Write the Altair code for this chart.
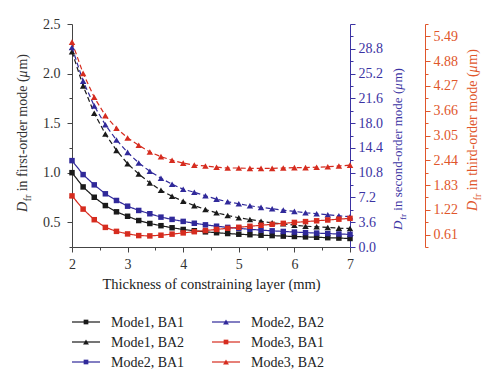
import altair as alt
import pandas as pd

# ---------------- data ----------------
thickness = [2.0, 2.2, 2.4, 2.6, 2.8, 3.0, 3.2, 3.4, 3.6, 3.8, 4.0, 4.2, 4.4,
             4.6, 4.8, 5.0, 5.2, 5.4, 5.6, 5.8, 6.0, 6.2, 6.4, 6.6, 6.8, 7.0]

# first-order mode (left axis)
mode1_ba1 = [1.00, 0.856, 0.752, 0.668, 0.605, 0.560, 0.517, 0.487, 0.465, 0.444,
             0.427, 0.414, 0.403, 0.394, 0.386, 0.379, 0.374, 0.369, 0.365, 0.360,
             0.356, 0.352, 0.348, 0.344, 0.340, 0.336]
mode1_ba2 = [2.22, 1.876, 1.60, 1.39, 1.225, 1.09, 0.987, 0.897, 0.822, 0.762,
             0.711, 0.668, 0.628, 0.595, 0.568, 0.545, 0.527, 0.510, 0.494, 0.484,
             0.470, 0.460, 0.454, 0.447, 0.440, 0.437]

# second-order mode (blue axis)
mode2_ba1 = [12.55, 10.52, 9.03, 7.73, 6.76, 5.93, 5.31, 4.83, 4.34, 4.01,
             3.72, 3.45, 3.22, 3.02, 2.85, 2.70, 2.57, 2.45, 2.35, 2.26,
             2.17, 2.09, 2.02, 1.95, 1.89, 1.83]
mode2_ba2 = [29.0, 24.1, 20.5, 17.76, 15.54, 13.75, 12.21, 11.0, 9.99, 9.12,
             8.39, 7.96, 7.44, 6.95, 6.57, 6.28, 5.99, 5.75, 5.56, 5.35,
             5.17, 4.98, 4.83, 4.69, 4.54, 4.40]

# third-order mode (red axis)
mode3_ba1 = [1.563, 1.238, 0.977, 0.788, 0.690, 0.627, 0.586, 0.578, 0.595, 0.622,
             0.652, 0.682, 0.710, 0.738, 0.765, 0.790, 0.815, 0.840, 0.864, 0.887,
             0.910, 0.930, 0.950, 0.970, 0.990, 1.010]
mode3_ba2 = [5.35, 4.58, 3.99, 3.54, 3.23, 2.99, 2.81, 2.645, 2.53, 2.44,
             2.37, 2.32, 2.30, 2.27, 2.25, 2.25, 2.24, 2.24, 2.24, 2.25,
             2.26, 2.26, 2.27, 2.28, 2.30, 2.32]

series_names = ["Mode1, BA1", "Mode1, BA2", "Mode2, BA1",
                "Mode2, BA2", "Mode3, BA1", "Mode3, BA2"]

left_ticks = [0.25, 0.5, 0.75, 1.0, 1.25, 1.5, 1.75, 2.0, 2.25, 2.5]
x_ticks = [2, 2.5, 3, 3.5, 4, 4.5, 5, 5.5, 6, 6.5, 7]
blue_ticks = [0, 1.8, 3.6, 5.4, 7.2, 9.0, 10.8, 12.6, 14.4, 16.2, 18.0, 19.8,
              21.6, 23.4, 25.2, 27.0, 28.8, 30.6, 32.4]
red_ticks = [0.305, 0.61, 0.915, 1.22, 1.525, 1.83, 2.135, 2.44, 2.745, 3.05,
             3.355, 3.66, 3.965, 4.27, 4.575, 4.88, 5.185, 5.49, 5.795]

# ---------------- styling ----------------
FONT = "Liberation Serif"
BLACK = "#1a1a1a"
BLUE = "#30299a"
RED = "#d62c1f"
BLUE_AX = "#3b33a3"
RED_AX = "#e0562b"
GREY = "#444444"
series_colors = [BLACK, BLACK, BLUE, BLUE, RED, RED]
series_dash = [[1, 0], [5, 3], [1, 0], [5, 3], [1, 0], [5, 3]]

W, H = 278, 223


def long_frame(names, arrays):
    rows = []
    for n, arr in zip(names, arrays):
        for xv, yv in zip(thickness, arr):
            rows.append({"t": xv, "v": yv, "series": n})
    return pd.DataFrame(rows)


color_enc = alt.Color("series:N",
                      scale=alt.Scale(domain=series_names, range=series_colors),
                      legend=None)
dash_enc = alt.StrokeDash("series:N",
                          scale=alt.Scale(domain=series_names, range=series_dash),
                          legend=None)

x_axis = alt.Axis(
    values=x_ticks,
    labelExpr="abs(datum.value - round(datum.value)) < 0.001 ? format(datum.value, 'd') : ''",
    tickSize={"condition": {"test": "abs(datum.value - round(datum.value)) > 0.001", "value": 3}, "value": 5},
    title="Thickness of constraining layer (mm)",
    titleFont=FONT, titleFontSize=14.5, titleFontWeight="normal", titleColor="#222",
    titlePadding=6,
    labelFont=FONT, labelFontSize=14, labelColor="#333", labelPadding=5,
    labelFlush=False, labelOverlap=False, grid=False,
    domainColor=GREY, tickColor=GREY,
)
x_enc = alt.X("t:Q", scale=alt.Scale(domain=[2, 7], nice=False, zero=False), axis=x_axis)


def panel(df, domain, axis):
    y = alt.Y("v:Q", scale=alt.Scale(domain=domain, nice=False, zero=False), axis=axis)
    base = alt.Chart(df)
    line = base.mark_line(strokeWidth=1.2).encode(
        x=x_enc, y=y, color=color_enc, strokeDash=dash_enc)
    sq = base.transform_filter("indexof(datum.series, 'BA1') >= 0").mark_point(
        shape="square", size=30, filled=True, opacity=1).encode(x=x_enc, y=y, color=color_enc)
    tr = base.transform_filter("indexof(datum.series, 'BA2') >= 0").mark_point(
        shape="triangle-up", size=42, filled=True, opacity=1).encode(x=x_enc, y=y, color=color_enc)
    return alt.layer(line, sq, tr)


left_axis = alt.Axis(
    orient="left", title=None, values=left_ticks,
    labelExpr="abs(datum.value*2 - round(datum.value*2)) < 0.001 ? format(datum.value, '.1f') : ''",
    tickSize={"condition": {"test": "abs(datum.value*2 - round(datum.value*2)) > 0.001", "value": 3}, "value": 5},
    labelFont=FONT, labelFontSize=14, labelColor="#333", labelPadding=7,
    labelFlush=False, labelOverlap=False, grid=False,
    domainColor=GREY, tickColor=GREY,
)
blue_axis = alt.Axis(
    orient="right", title=None, values=blue_ticks,
    labelExpr="(abs(datum.value/3.6 - round(datum.value/3.6)) < 0.001 && datum.value < 30) ? format(datum.value, '.1f') : ''",
    tickSize={"condition": {"test": "abs(datum.value/3.6 - round(datum.value/3.6)) > 0.001", "value": 3}, "value": 5},
    labelFont=FONT, labelFontSize=14, labelColor=BLUE_AX, labelPadding=3,
    labelFlush=False, labelOverlap=False, grid=False,
    domainColor=BLUE_AX, tickColor=BLUE_AX,
)
red_axis = alt.Axis(
    orient="right", offset=75, title=None, values=red_ticks,
    labelExpr="abs(datum.value/0.61 - round(datum.value/0.61)) < 0.001 ? format(datum.value, '.2f') : ''",
    tickSize={"condition": {"test": "abs(datum.value/0.61 - round(datum.value/0.61)) > 0.001", "value": 3}, "value": 5},
    labelFont=FONT, labelFontSize=14, labelColor=RED_AX, labelPadding=3,
    labelFlush=False, labelOverlap=False, grid=False,
    domainColor=RED_AX, tickColor=RED_AX,
)

p1 = panel(long_frame(series_names[0:2], [mode1_ba1, mode1_ba2]), [0.25, 2.5], left_axis)
p2 = panel(long_frame(series_names[2:4], [mode2_ba1, mode2_ba2]), [0, 32.4], blue_axis)
p3 = panel(long_frame(series_names[4:6], [mode3_ba1, mode3_ba2]), [0.305, 5.795], red_axis)

# ---------------- rotated axis titles (D with subscript fr) ----------------
REG = {" ": 250, "(": 333, ")": 333, "-": 333, "a": 444, "c": 444, "d": 500, "e": 444,
       "f": 333, "h": 500, "i": 278, "m": 778, "n": 500, "o": 500, "r": 333, "s": 389,
       "t": 278}
one = pd.DataFrame({"k": [0]})


def text_width(s, size, italic=False):
    if italic:
        return sum({"D": 722, "μ": 520}.get(c, 500) for c in s) * size / 1000
    return sum(REG.get(c, 500) for c in s) * size / 1000


def vertical_title(word, base_x, center_y, color, size):
    sub = size * 0.7
    # (text, font size, style, baseline shift, gap before)
    pieces = [("D", size, "italic", 0, 0.0), ("fr", sub, "normal", 3.5, 0.5),
              (f"in {word}-order mode (", size, "normal", 0, 0.25 * size),
              ("μ", size, "italic", 0, 0.0), ("m)", size, "normal", 0, 0.5)]
    total = sum(text_width(p[0], p[1], p[2] == "italic") + p[4] for p in pieces)
    y = center_y + total / 2
    layers = []
    for txt, fs, style, shift, gap in pieces:
        y -= gap
        layers.append(alt.Chart(one).mark_text(
            text=txt, angle=270, align="left", baseline="alphabetic",
            font=FONT, fontSize=fs, fontStyle=style, color=color,
        ).encode(x=alt.value(base_x + shift), y=alt.value(y)))
        y -= text_width(txt, fs, style == "italic")
    return layers


titles = (vertical_title("first", -45, 109, "#333", 14)
          + vertical_title("second", 330, 125, BLUE_AX, 13)
          + vertical_title("third", 405, 106, RED_AX, 14))

# ---------------- legend ----------------
legend_layers = []
for i, name in enumerate(series_names):
    col, row = i // 3, i % 3
    x0 = col * 140
    y0 = 298 + row * 20
    c = series_colors[i]
    shape = "square" if "BA1" in name else "triangle-up"
    sz = 22 if shape == "square" else 34
    legend_layers += [
        alt.Chart(one).mark_rule(color=c, strokeWidth=1.2).encode(
            x=alt.value(x0), x2=alt.value(x0 + 28), y=alt.value(y0)),
        alt.Chart(one).mark_point(shape=shape, size=sz, filled=True, opacity=1, color=c).encode(
            x=alt.value(x0 + 14), y=alt.value(y0)),
        alt.Chart(one).mark_text(text=name, align="left", baseline="middle", font=FONT,
                                 fontSize=14, color="#222").encode(
            x=alt.value(x0 + 39), y=alt.value(y0 + 1)),
    ]

chart = alt.layer(p1, p2, p3, *titles, *legend_layers).resolve_scale(
    y="independent"
).properties(
    width=W, height=H,
    autosize=alt.AutoSizeParams(type="none"),
    padding={"left": 64, "top": 16, "right": 142, "bottom": 131},
    background="white",
).configure_view(strokeWidth=0)

chart.save("out.html", embed_options={"renderer": "svg", "actions": False})
